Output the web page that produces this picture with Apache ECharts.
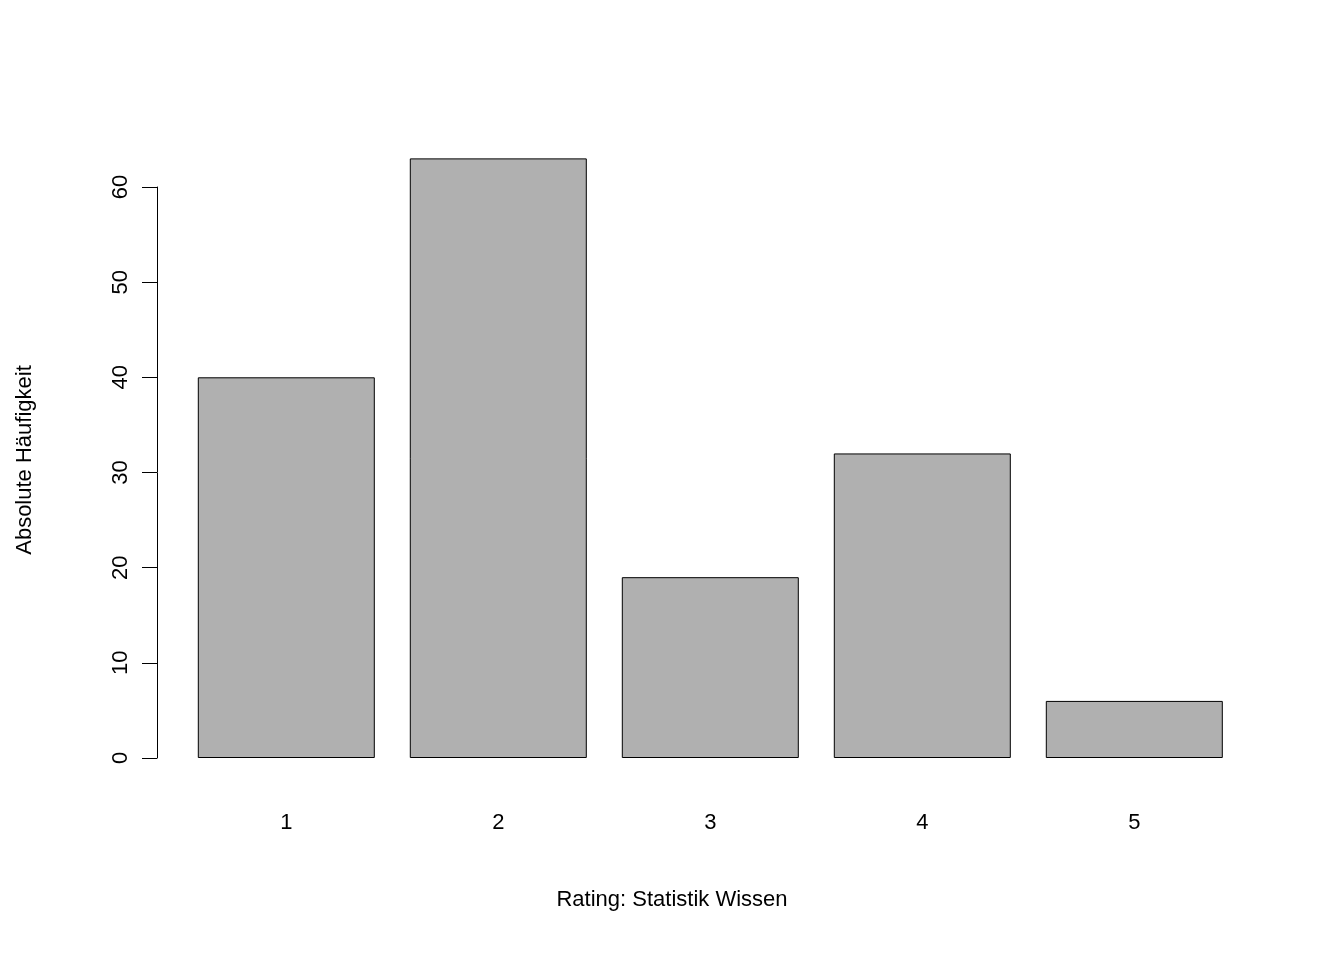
<!DOCTYPE html><html><head><meta charset="utf-8"><script src="https://cdn.jsdelivr.net/npm/echarts@6/dist/echarts.min.js"></script></head><body style="margin:0"><div id="c" style="width:1344px;height:960px"></div><script>
const categories=['1','2','3','4','5'];
const values=[40,63,19,32,6];
const yTicks=[0,10,20,30,40,50,60];
const F='Liberation Sans, Arial, sans-serif';
const ch=echarts.init(document.getElementById('c'));
ch.setOption({animation:false,backgroundColor:'#fff',
grid:[{left:180.3,right:103.7,top:134.4,bottom:178},{left:157,right:81,top:187,bottom:202}],
xAxis:[{type:'category',gridIndex:0,data:categories,axisLine:{show:false},axisTick:{show:false},axisLabel:{margin:30,fontSize:22,color:'#000',fontFamily:F}},
{type:'value',gridIndex:1,show:false}],
yAxis:[{type:'value',gridIndex:0,min:-2.52,max:65.52,show:false},
{type:'value',gridIndex:1,min:0,max:60,interval:10,splitLine:{show:false},axisLine:{show:true,lineStyle:{color:'#000',width:1}},axisTick:{length:15,lineStyle:{color:'#000'}},axisLabel:{rotate:90,margin:25,fontSize:22,color:'#000',fontFamily:F,formatter:v=>yTicks.includes(v)?String(v):''}}],
series:[{type:'bar',xAxisIndex:0,yAxisIndex:0,data:values,barWidth:177,itemStyle:{color:'#b0b0b0',borderColor:'#000',borderWidth:1}}],
graphic:[{type:'text',left:'center',x:0,style:{text:'Rating: Statistik Wissen',x:710,y:900,align:'center',verticalAlign:'middle',fontSize:22,fontFamily:F,fill:'#000'}},
{type:'text',x:25,y:460,rotation:Math.PI/2,style:{text:'Absolute Häufigkeit',align:'center',verticalAlign:'middle',fontSize:22,fontFamily:F,fill:'#000'}}]
});
</script></body></html>
